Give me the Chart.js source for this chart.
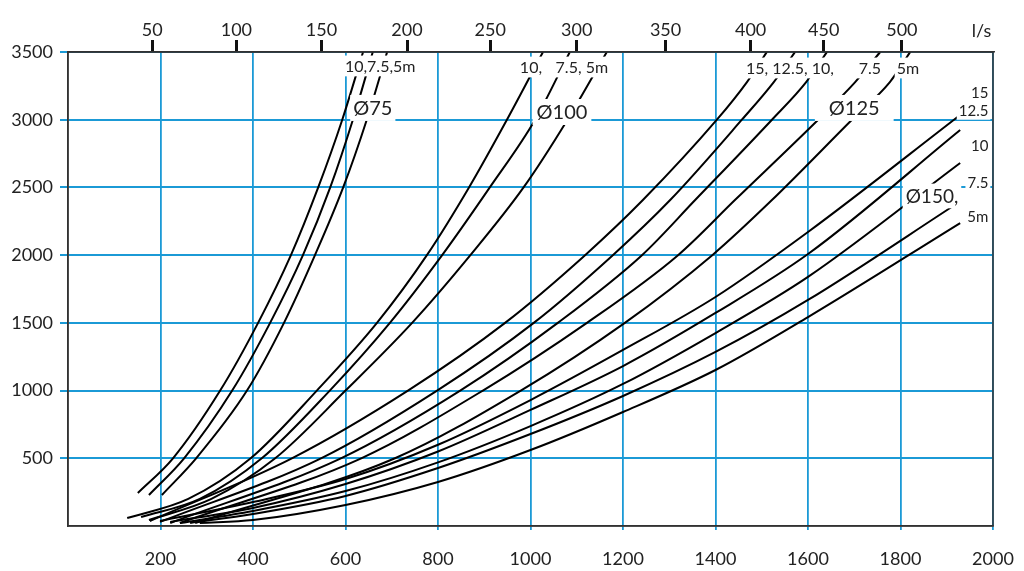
<!DOCTYPE html>
<html>
<head>
<meta charset="utf-8">
<script src="https://cdn.jsdelivr.net/npm/chart.js@4/dist/chart.umd.min.js"></script>
<style>
  html, body { margin: 0; padding: 0; background: #fff; }
  #wrap { width: 1024px; height: 571px; }
</style>
</head>
<body>
<div id="wrap"><canvas id="myChart" width="1024" height="571"></canvas></div>
<script>
// bottom axis: m3/h, left axis: length, top axis: l/s
var xTicks = [200, 400, 600, 800, 1000, 1200, 1400, 1600, 1800, 2000]
var yTicks = [500, 1000, 1500, 2000, 2500, 3000, 3500]
var topLabels = [50, 100, 150, 200, 250, 300, 350, 400, 450, 500]
var topPos = [182, 364, 548, 733, 913, 1100, 1292, 1476, 1634, 1803]

// curves [x, y]
var d75_10 = [[151,244],[227,500],[329,1000],[411,1500],[482,2000],[541,2500],[593,3000],[638,3500]]
var d75_75 = [[175,229],[251,500],[355,1000],[437,1500],[508,2000],[567,2500],[616,3000],[659,3500]]
var d75_5 = [[203,229],[277,500],[387,1000],[467,1500],[534,2000],[595,2500],[646,3000],[690,3500]]

var d100_10 = [[128,59],[260,200],[395,500],[538,1000],[668,1500],[776,2000],[867,2500],[949,3000],[1027,3500]]
var d100_75 = [[158,66],[285,200],[419,500],[566,1000],[696,1500],[809,2000],[912,2500],[1010,3000],[1085,3500]]
var d100_5 = [[175,44],[310,200],[448,500],[600,1000],[744,1500],[870,2000],[985,2500],[1080,3000],[1165,3500]]

var d125_15 = [[177,37],[484,500],[735,1000],[945,1500],[1118,2000],[1243,2407],[1403,3000],[1468,3278],[1511,3500]]
var d125_125 = [[199,30],[547,500],[798,1000],[1007,1500],[1178,2000],[1302,2407],[1457,3000],[1526,3278],[1572,3500]]
var d125_10 = [[221,22],[590,500],[848,1000],[1059,1500],[1241,2000],[1356,2407],[1522,3000],[1596,3278],[1641,3500]]
var d125_75 = [[242,22],[634,500],[897,1000],[1122,1500],[1319,2000],[1442,2407],[1622,3000],[1702,3278],[1756,3500]]
var d125_5 = [[275,22],[707,500],[979,1000],[1204,1500],[1393,2000],[1522,2407],[1695,3000],[1777,3278],[1821,3500]]

var d150_15 = [[199,37],[400,177],[600,347],[800,600],[1000,930],[1200,1300],[1400,1691],[1600,2171],[1929,3035]]
var d150_125 = [[221,30],[400,133],[600,310],[800,550],[1000,857],[1200,1181],[1400,1573],[1600,2008],[1929,2924]]
var d150_10 = [[242,22],[400,111],[600,258],[800,470],[1000,738],[1200,1049],[1400,1425],[1600,1839],[1929,2680]]
var d150_75 = [[264,22],[400,89],[600,222],[800,428],[1000,679],[1200,960],[1400,1285],[1600,1669],[1924,2385]]
var d150_5 = [[285,22],[400,44],[600,155],[800,325],[1000,561],[1200,842],[1400,1152],[1600,1543],[1929,2237]]

var curves = [d75_10, d75_75, d75_5, d100_10, d100_75, d100_5,
  d125_15, d125_125, d125_10, d125_75, d125_5,
  d150_15, d150_125, d150_10, d150_75, d150_5]

// text on the chart: [text, x, y, size, align, extra white margin]
var notes = [
  ["10,7.5,5m", 675, 3397, 16, "center", 2],
  ["Ø75", 659, 3087, 20, "center", 3],
  ["10,", 1001, 3389, 16, "center", 2],
  ["7.5, 5m", 1111, 3389, 16, "center", 2],
  ["Ø100", 1068, 3057, 20, "center", 4],
  ["15, 12.5, 10,", 1561, 3382, 16, "center", 2],
  ["7.5", 1734, 3382, 16, "center", 2],
  ["5m", 1816, 3382, 16, "center", 2],
  ["Ø125", 1700, 3087, 20, "center", 14],
  ["Ø150,", 1868, 2437, 19, "center", 3],
  ["15", 1990, 3205, 15, "right", 2],
  ["12.5", 1990, 3072, 15, "right", 2],
  ["10", 1990, 2813, 15, "right", 2],
  ["7.5", 1990, 2540, 15, "right", 2],
  ["5m", 1990, 2289, 15, "right", 2]
]

var blue = "#1b9ad6"
var fontName = "Lato, 'Open Sans', sans-serif"

var datasets = curves.map(function(c){
  return {
    data: c.map(function(p){ return {x: p[0], y: p[1]} }),
    borderColor: "#000",
    borderWidth: 2,
    pointRadius: 0,
    fill: false,
    cubicInterpolationMode: "monotone"
  }
})

var labelPlugin = {
  id: "labels",
  afterDatasetsDraw: function(chart){
    var ctx = chart.ctx
    var xs = chart.scales.x, ys = chart.scales.y
    var a = chart.chartArea
    ctx.save()
    ctx.textBaseline = "middle"
    notes.forEach(function(n){
      ctx.font = n[3] + "px " + fontName
      var px = xs.getPixelForValue(n[1])
      var py = ys.getPixelForValue(n[2])
      var w = ctx.measureText(n[0]).width
      var left = n[4] == "right" ? px - w : px - w / 2
      ctx.fillStyle = "#fff"
      ctx.fillRect(left - n[5], py - n[3] * 0.65, w + 2 * n[5], n[3] * 1.3)
      ctx.fillStyle = "#222"
      ctx.textAlign = "left"
      ctx.fillText(n[0], left, py + 1)
    })
    ctx.strokeStyle = "#333"
    ctx.lineWidth = 1.5
    ctx.strokeRect(a.left, a.top, a.right - a.left, a.bottom - a.top)
    ctx.font = "18px " + fontName
    ctx.textAlign = "center"
    ctx.fillStyle = "#222"
    ctx.fillText("l/s", xs.getPixelForValue(1975), 31)
    ctx.restore()
  }
}

function noSidePad(s){
  s.paddingLeft = 0
  s.paddingRight = 0
}

new Chart("myChart", {
  type: "line",
  data: { datasets: datasets },
  plugins: [labelPlugin],
  options: {
    responsive: false,
    animation: false,
    layout: { autoPadding: false, padding: { left: 0, right: 31, top: 0, bottom: 0 } },
    plugins: { legend: { display: false }, tooltip: { enabled: false } },
    scales: {
      x: {
        type: "linear", position: "bottom", min: 0, max: 2000,
        afterBuildTicks: function(s){ s.ticks = xTicks.map(function(v){ return {value: v} }) },
        afterFit: function(s){ s.height = 45; noSidePad(s) },
        ticks: { color: "#222", font: { family: fontName, size: 18 }, padding: 18, maxRotation: 0,
          callback: function(v){ return String(v) } },
        grid: { color: blue, lineWidth: 1.8, tickLength: 4 },
        border: { display: true, color: "#333", width: 1.5 }
      },
      x2: {
        type: "linear", position: "top", min: 0, max: 2000,
        afterBuildTicks: function(s){ s.ticks = topPos.map(function(v){ return {value: v} }) },
        afterFit: function(s){ s.height = 52; noSidePad(s) },
        ticks: {
          color: "#222", font: { family: fontName, size: 18 }, padding: -1, maxRotation: 0,
          callback: function(v, i){ return String(topLabels[i]) }
        },
        grid: { drawOnChartArea: false, color: "#111", lineWidth: 3, tickLength: 12 },
        border: { display: true, color: "#333", width: 1.5 }
      },
      y: {
        type: "linear", min: 0, max: 3500,
        afterBuildTicks: function(s){ s.ticks = yTicks.map(function(v){ return {value: v} }) },
        afterFit: function(s){ s.width = 68 },
        ticks: { color: "#222", font: { family: fontName, size: 18 }, padding: 7,
          callback: function(v){ return String(v) } },
        grid: { color: blue, lineWidth: 2, tickLength: 8 },
        border: { display: true, color: "#333", width: 1.5 }
      }
    }
  }
})
</script>
</body>
</html>
